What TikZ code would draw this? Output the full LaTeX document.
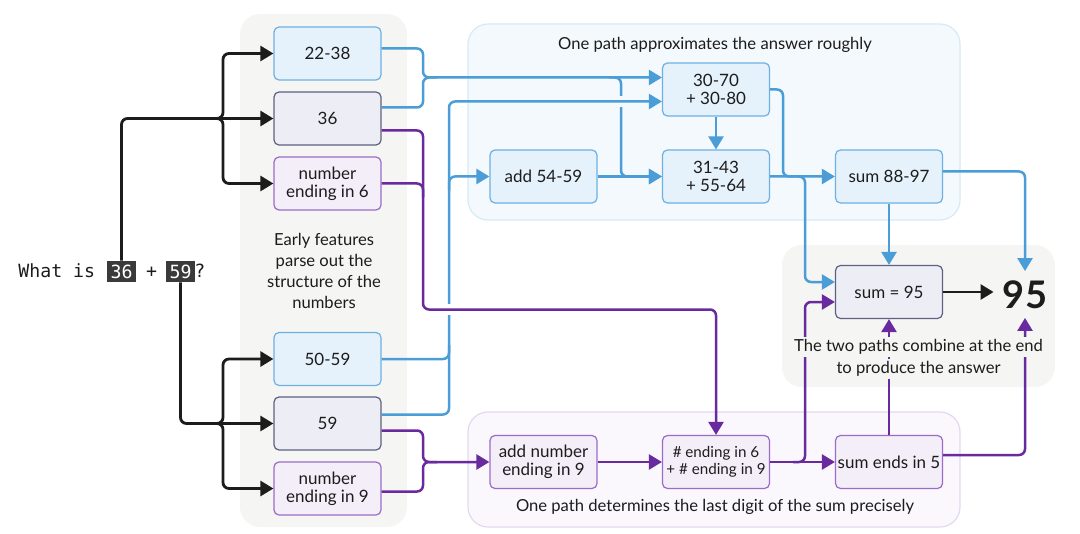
\documentclass[tikz,border=0pt]{standalone}
\usepackage{fontspec}
\setmainfont{Lato}
\newfontfamily\qmono{DejaVu Sans Mono}
\usepackage{tikz}
\usetikzlibrary{arrows.meta,calc,positioning}

\definecolor{blueline}{HTML}{4A9DD7}
\definecolor{bluefill}{HTML}{E6F2FB}
\definecolor{blueedge}{HTML}{6DB0E2}
\definecolor{purpline}{HTML}{6A2A9F}
\definecolor{purpfill}{HTML}{F4EEF9}
\definecolor{purpedge}{HTML}{9A6CC8}
\definecolor{numfill}{HTML}{EDEDF6}
\definecolor{numedge}{HTML}{5D6282}
\definecolor{panelgray}{HTML}{F5F5F3}
\definecolor{panelblue}{HTML}{F3F9FD}
\definecolor{panelblueedge}{HTML}{D6EAF6}
\definecolor{panelpurp}{HTML}{FAF7FD}
\definecolor{panelpurpedge}{HTML}{E3D8EF}
\definecolor{ink}{HTML}{1C1C1C}
\definecolor{qshade}{HTML}{3A3A3A}

\newcommand\featfont{\fontsize{8.5}{8.8}\selectfont}
\newcommand\smallfeatfont{\fontsize{7.6}{8.4}\selectfont}
\newcommand\notefont{\fontsize{8.3}{10.5}\selectfont}
\newcommand\qfont{\qmono\fontsize{9.1}{10}\selectfont}
\newcommand\ansfont{\fontsize{19}{20}\selectfont\bfseries}

\tikzset{
  featbox/.style={draw, rounded corners=2.5pt, line width=0.6pt, minimum width=53.5pt,
    minimum height=26.5pt, align=center, inner sep=1pt, text=ink, font=\featfont},
  bluebox/.style={featbox, fill=bluefill, draw=blueedge},
  purpbox/.style={featbox, fill=purpfill, draw=purpedge},
  numbox/.style={featbox, fill=numfill, draw=numedge},
  wire/.style={rounded corners=3pt, line width=1.25pt},
  bluewire/.style={wire, draw=blueline},
  purpwire/.style={wire, draw=purpline},
  inkwire/.style={wire, draw=ink, line width=1.4pt},
  tip/.style={-{Triangle[length=6.5pt,width=7.5pt]}},
  gap/.style={line width=5.5pt},
  note/.style={font=\notefont, text=ink, align=center, inner sep=1pt},
  qtext/.style={font=\qfont, text=ink, inner sep=0pt},
  qnum/.style={font=\qfont, text=white, fill=qshade, inner sep=0pt,
    minimum width=14.5pt, minimum height=10.5pt},
}

\begin{document}
\begin{tikzpicture}[x=0.5pt,y=-0.5pt]
\useasboundingbox (0,0) rectangle (1080,534);

\fill[panelgray, rounded corners=10pt] (240,14) rectangle (407,527);
\filldraw[fill=panelblue, draw=panelblueedge, line width=0.6pt, rounded corners=10pt] (468,24) rectangle (960,220);
\filldraw[fill=panelpurp, draw=panelpurpedge, line width=0.6pt, rounded corners=10pt] (468,412) rectangle (960,527);
\fill[panelgray, rounded corners=10pt] (782,245) rectangle (1055,387);

\node[qtext, anchor=base west] (qwhat) at (18,277) {What is};
\node[qnum] (q36) at (121.5,271.5) {36};
\node[qtext, anchor=base] (qplus) at (151.5,277) {+};
\node[qnum] (q59) at (180.5,271.5) {59};
\node[qtext, anchor=base west] (qmark) at (194,277) {?};

\node[bluebox] (r2238) at (327.5,53.5) {22-38};
\node[numbox] (n36) at (327.5,118.5) {36};
\node[purpbox] (e6) at (327.5,183.5) {number\\ending in 6};
\node[bluebox] (r5059) at (327.5,359) {50-59};
\node[numbox] (n59) at (327.5,423.5) {59};
\node[purpbox] (e9) at (327.5,488.5) {number\\ending in 9};

\node[bluebox] (r3070) at (716,89.5) {30-70\\+ 30-80};
\node[bluebox] (a5459) at (543.5,176.5) {add 54-59};
\node[bluebox] (r3143) at (716,176.5) {31-43\\+ 55-64};
\node[bluebox] (s8897) at (889,176.5) {sum 88-97};
\node[numbox] (s95) at (889,292) {sum = 95};
\node[text=ink, font=\ansfont, inner sep=4.5pt] (ans) at (1025,294.5) {95};

\node[purpbox] (a9) at (543.5,462) {add number\\ending in 9};
\node[purpbox, font=\smallfeatfont] (e69) at (716,462) {\# ending in 6\\+ \# ending in 9};
\node[purpbox] (s5) at (889,462) {sum ends in 5};

\coordinate (laneA) at (423,0);
\coordinate (laneB) at (449,0);
\coordinate (laneC) at (621,0);
\coordinate (laneD) at (783,0);
\coordinate (laneE) at (805,0);
\coordinate (jq1) at (223,118.5);
\coordinate (jq2) at (223,423.5);
\coordinate (pturn) at (423,309.5);
\coordinate (r3070in1) at ($(r3070.west)+(0,-12)$);
\coordinate (r3070in2) at ($(r3070.west)+(0,12)$);
\coordinate (s95in1) at ($(s95.west)+(0,-10)$);
\coordinate (s95in2) at ($(s95.west)+(0,10)$);
\coordinate (jb1) at (laneA |- r3070in1);
\coordinate (pjoin) at (laneA |- a9.west);

% question to the first features
\draw[inkwire,tip] (q36.north) |- (n36.west);
\draw[inkwire,tip] ($(jq1)+(-12,0)$) -- (jq1) |- (r2238.west);
\draw[inkwire,tip] ($(jq1)+(-12,0)$) -- (jq1) |- (e6.west);
\draw[inkwire,tip] (q59.south) |- (n59.west);
\draw[inkwire,tip] ($(jq2)+(-12,0)$) -- (jq2) |- (r5059.west);
\draw[inkwire,tip] ($(jq2)+(-12,0)$) -- (jq2) |- (e9.west);

% rough path
\draw[bluewire,tip] ($(r2238.east)+(0,-5)$) -| (jb1) -- (r3070in1);
\draw[bluewire] ($(n36.east)+(0,-11)$) -| (jb1) -- ++(14,0);
\draw[bluewire,tip] ($(laneC |- r3070in1)+(-12,0)$) -- (laneC |- r3070in1) |- (r3143.west);
\draw[gap, panelblue] ($(laneC |- r3070in2)+(-9,0)$) -- ++(18,0);
\draw[bluewire,tip] ($(n59.east)+(0,-9)$) -| (laneB |- r3070in2) -- (r3070in2);
\draw[bluewire] (r5059.east) -| ($(laneB |- r5059.east)+(0,-14)$);
\draw[bluewire,tip] ($(laneB |- a5459.west)+(0,14)$) -- (laneB |- a5459.west) -- (a5459.west);
\draw[bluewire,tip] (a5459.east) -- (r3143.west);
\draw[bluewire,tip] (r3070.south) -- (r3143.north);
\draw[bluewire,tip] (r3070.east) -| (laneD |- s8897.west) -- (s8897.west);
\draw[bluewire,tip] (r3143.east) -| (laneE |- s95in1) -- (s95in1);
\draw[bluewire,tip] (s8897.south) -- (s95.north);
\draw[bluewire,tip] ($(s8897.east)+(0,-5)$) -| (ans.north);

% precise path
\draw[gap, white] ($(laneB |- pturn)+(-9,0)$) -- ++(18,0);
\draw[purpwire,tip] ($(n36.east)+(0,12)$) -| (pturn) -| (e69.north);
\draw[purpwire] (e6.east) -| ($(laneA |- e6.east)+(0,14)$);
\draw[purpwire,tip] ($(n59.east)+(0,7)$) -| (pjoin) -- (a9.west);
\draw[purpwire] ($(e9.east)+(0,3)$) -| (pjoin) -- ++(14,0);
\draw[purpwire,tip] (a9.east) -- (e69.west);
\draw[purpwire,tip] (e69.east) -- (s5.west);
\draw[purpwire,tip] ($(laneE |- e69.east)+(-12,0)$) -- (laneE |- e69.east) |- (s95in2);
\draw[purpwire,tip] (s5.north) -- (s95.south);
\draw[purpwire,tip] ($(s5.east)+(0,-7)$) -| (ans.south);

\draw[inkwire,tip] (s95.east) -- (s95.east -| ans.west);

\node[note] (earlynote) at (324,271) {Early features\\parse out the\\structure of the\\numbers};
\node[note] (roughnote) at (715,45) {One path approximates the answer roughly};
\node[note] (precisenote) at (715,507) {One path determines the last digit of the sum precisely};
\node[note, fill=panelgray] (combnote1) at (918.5,347) {The two paths combine at the end};
\node[note, fill=panelgray] (combnote2) at (918.5,369) {to produce the answer};
\end{tikzpicture}
\end{document}
